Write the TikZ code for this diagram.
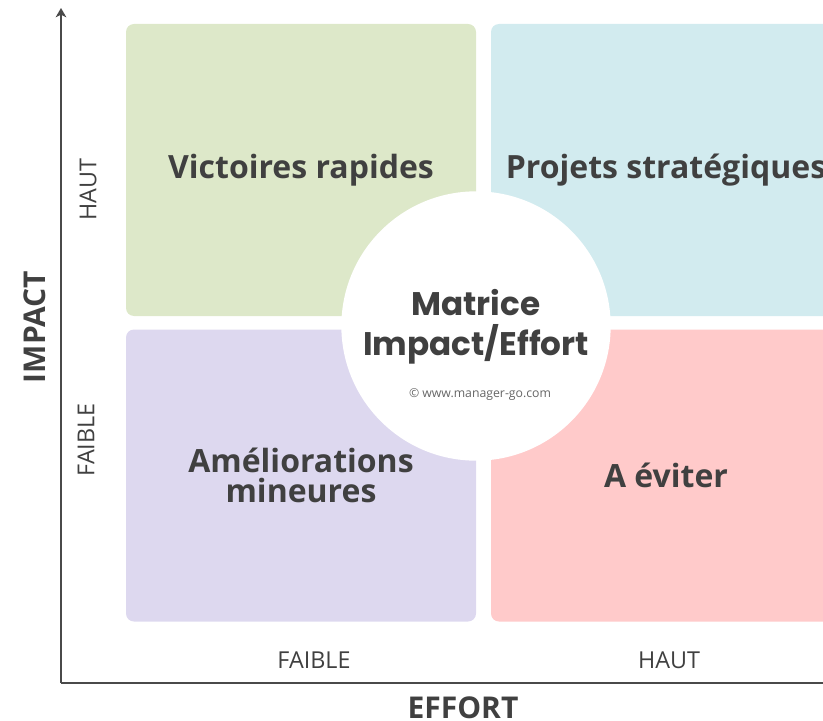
\documentclass[tikz,border=0pt]{standalone}
\usepackage{fontspec}
\setmainfont{Open Sans}
\newfontfamily\titlefont{Poppins}
\usetikzlibrary{positioning, arrows.meta}
\definecolor{txt}{HTML}{404040}
\definecolor{qgreen}{HTML}{DDE8C9}
\definecolor{qblue}{HTML}{D2EBEF}
\definecolor{qpurple}{HTML}{DDD8EF}
\definecolor{qred}{HTML}{FFCACA}
\tikzstyle{quad} = [rectangle, rounded corners=6pt, minimum width=262.5pt, minimum height=219pt, text centered, align=center, text=txt, font=\fontsize{24}{23}\selectfont\bfseries, inner sep=0pt]
\tikzstyle{tick} = [text=txt, font=\fontsize{17.5}{19}\selectfont]
\tikzstyle{axlabel} = [text=txt, font=\fontsize{22.5}{24}\selectfont\bfseries]
\tikzstyle{axis} = [line width=1.5pt, draw=txt!95, -{Stealth[length=7pt, width=8pt, inset=2pt]}]

\begin{document}
\begin{tikzpicture}[x=0.75pt, y=-0.75pt]
			\useasboundingbox (0,0) rectangle (823,720);
			\clip (0,0) rectangle (823,720);
			% quadrants
			\node[quad, fill=qgreen] (quick) at (301,170) {Victoires rapides};
			\node[quad, fill=qblue] (strat) at (666,170) {Projets stratégiques};
			\node[quad, fill=qpurple] (minor) at (301,475.5) {Améliorations\\mineures};
			\node[quad, fill=qred] (avoid) at (666,475.5) {A éviter};
			% centre
			\node[circle, fill=white, minimum size=202pt, inner sep=0pt] (matrix) at (476,326) {};
			\node[text=txt, align=center, font=\titlefont\fontsize{24.5}{30}\selectfont\bfseries] (title) at (476,327) {Matrice\\Impact/Effort};
			\node[text=txt!80, font=\fontsize{9.2}{11}\selectfont] (copy) at (480,395) {© www.manager-go.com};
			% axes
			\coordinate (O) at (61,683);
			\coordinate (ytip) at (61,8);
			\coordinate (xend) at (840,683);
			\draw[axis] (O) -- (ytip);
			\draw[line width=1.5pt, draw=txt!95] (O) -- (xend);
			\node[tick, rotate=90] (yhigh) at (88,190) {HAUT};
			\node[tick, rotate=90] (ylow) at (86,440) {FAIBLE};
			\node[tick] (xlow) at (314,660) {FAIBLE};
			\node[tick] (xhigh) at (669,660) {HAUT};
			\node[axlabel, rotate=90] (impact) at (35,327) {IMPACT};
			\node[axlabel, anchor=base] (effort) at (463,718.5) {EFFORT};
		\end{tikzpicture}
\end{document}
